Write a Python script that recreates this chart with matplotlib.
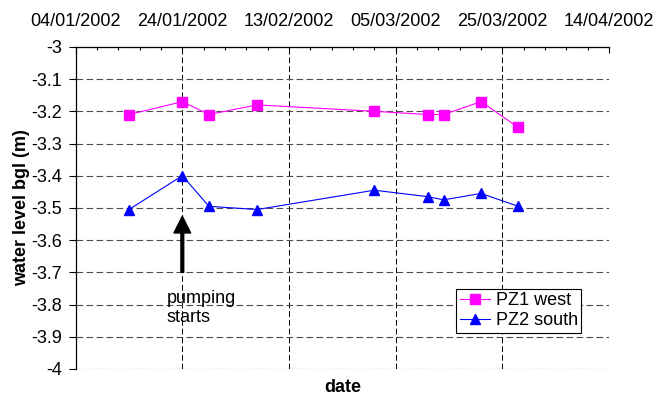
#!/usr/bin/env python3
"""Piezometer water levels before and after pumping started."""
import matplotlib.pyplot as plt
import matplotlib.dates as mdates
import pandas as pd

plt.rcParams["font.family"] = ["Liberation Sans", "DejaVu Sans"]

# Survey dates (same for both piezometers)
dates = pd.to_datetime([
    "2002-01-14", "2002-01-24", "2002-01-29", "2002-02-07", "2002-03-01",
    "2002-03-11", "2002-03-14", "2002-03-21", "2002-03-28",
])
pz1_west = [-3.21, -3.17, -3.21, -3.18, -3.20, -3.21, -3.21, -3.17, -3.25]
pz2_south = [-3.505, -3.40, -3.495, -3.505, -3.445, -3.465, -3.475, -3.455, -3.495]

date_start = "2002-01-04"
date_end = "2002-04-14"
major_ticks = pd.date_range(date_start, date_end, freq="20D")
minor_ticks = pd.date_range(date_start, date_end, freq="4D")
y_ticks = [-3 - 0.1 * i for i in range(11)]
y_ticklabels = ["-3", "-3.1", "-3.2", "-3.3", "-3.4", "-3.5", "-3.6",
                "-3.7", "-3.8", "-3.9", "-4"]

pump_date = pd.Timestamp("2002-01-24")
pump_text_date = pd.Timestamp("2002-01-21")

FS = 13

fig = plt.figure(figsize=(6.59, 4.01), dpi=100)
ax = fig.add_axes([0.1148, 0.080, 0.8093, 0.803])

ax.plot(dates, pz1_west, "-s", color="#ff00ff", linewidth=0.8,
        markersize=6.5, label="PZ1 west", zorder=3)
ax.plot(dates, pz2_south, "-^", color="#0000ff", linewidth=0.8,
        markersize=7, label="PZ2 south", zorder=3)

ax.set_xlim(major_ticks[0], major_ticks[-1])
ax.set_ylim(-4, -3)

# x axis across the top, dates every 20 days, minor ticks every 4
ax.xaxis.tick_top()
ax.set_xticks(major_ticks)
ax.set_xticks(minor_ticks, minor=True)
ax.xaxis.set_major_formatter(mdates.DateFormatter("%d/%m/%Y"))
ax.tick_params(axis="x", which="major", direction="in", length=4.3,
               width=0.8, pad=12, labelsize=FS)
ax.tick_params(axis="x", which="minor", direction="in", length=2.2, width=0.8)
ax.set_yticks(y_ticks)
ax.set_yticklabels(y_ticklabels)
ax.tick_params(axis="y", direction="out", length=5, width=0.8, pad=5,
               labelsize=FS)

for side in ("right", "bottom"):
    ax.spines[side].set_visible(False)
for side in ("left", "top"):
    ax.spines[side].set_color("black")
    ax.spines[side].set_linewidth(0.9)

ax.grid(axis="x", color="black", linestyle=(0, (6, 3)), linewidth=0.7)
ax.grid(axis="y", color="0.3", linestyle=(0, (6, 3)), linewidth=0.8)
ax.set_axisbelow(True)

ax.set_ylabel("water level bgl (m)", fontsize=FS, fontweight="bold")
ax.yaxis.set_label_coords(-0.086, 0.5)
ax.set_xlabel("date", fontsize=FS, fontweight="bold")
ax.xaxis.set_label_coords(0.5, -0.03)

ax.annotate("", xy=(pump_date, -3.526), xytext=(pump_date, -3.70),
            arrowprops=dict(facecolor="black", edgecolor="black",
                            width=2, headwidth=12, headlength=12))
ax.text(pump_text_date, -3.81, "pumping\nstarts", fontsize=FS,
        ha="left", va="center", linespacing=1.15)

leg = ax.legend(loc="upper left", bbox_to_anchor=(0.713, 0.249),
                fontsize=FS, frameon=True, fancybox=False,
                edgecolor="black", handlelength=1.7, handletextpad=0.3,
                borderpad=0.2, labelspacing=0.15, borderaxespad=0)
leg.get_frame().set_linewidth(0.8)
leg.get_frame().set_alpha(1)

fig.savefig("out.png", dpi=100)
